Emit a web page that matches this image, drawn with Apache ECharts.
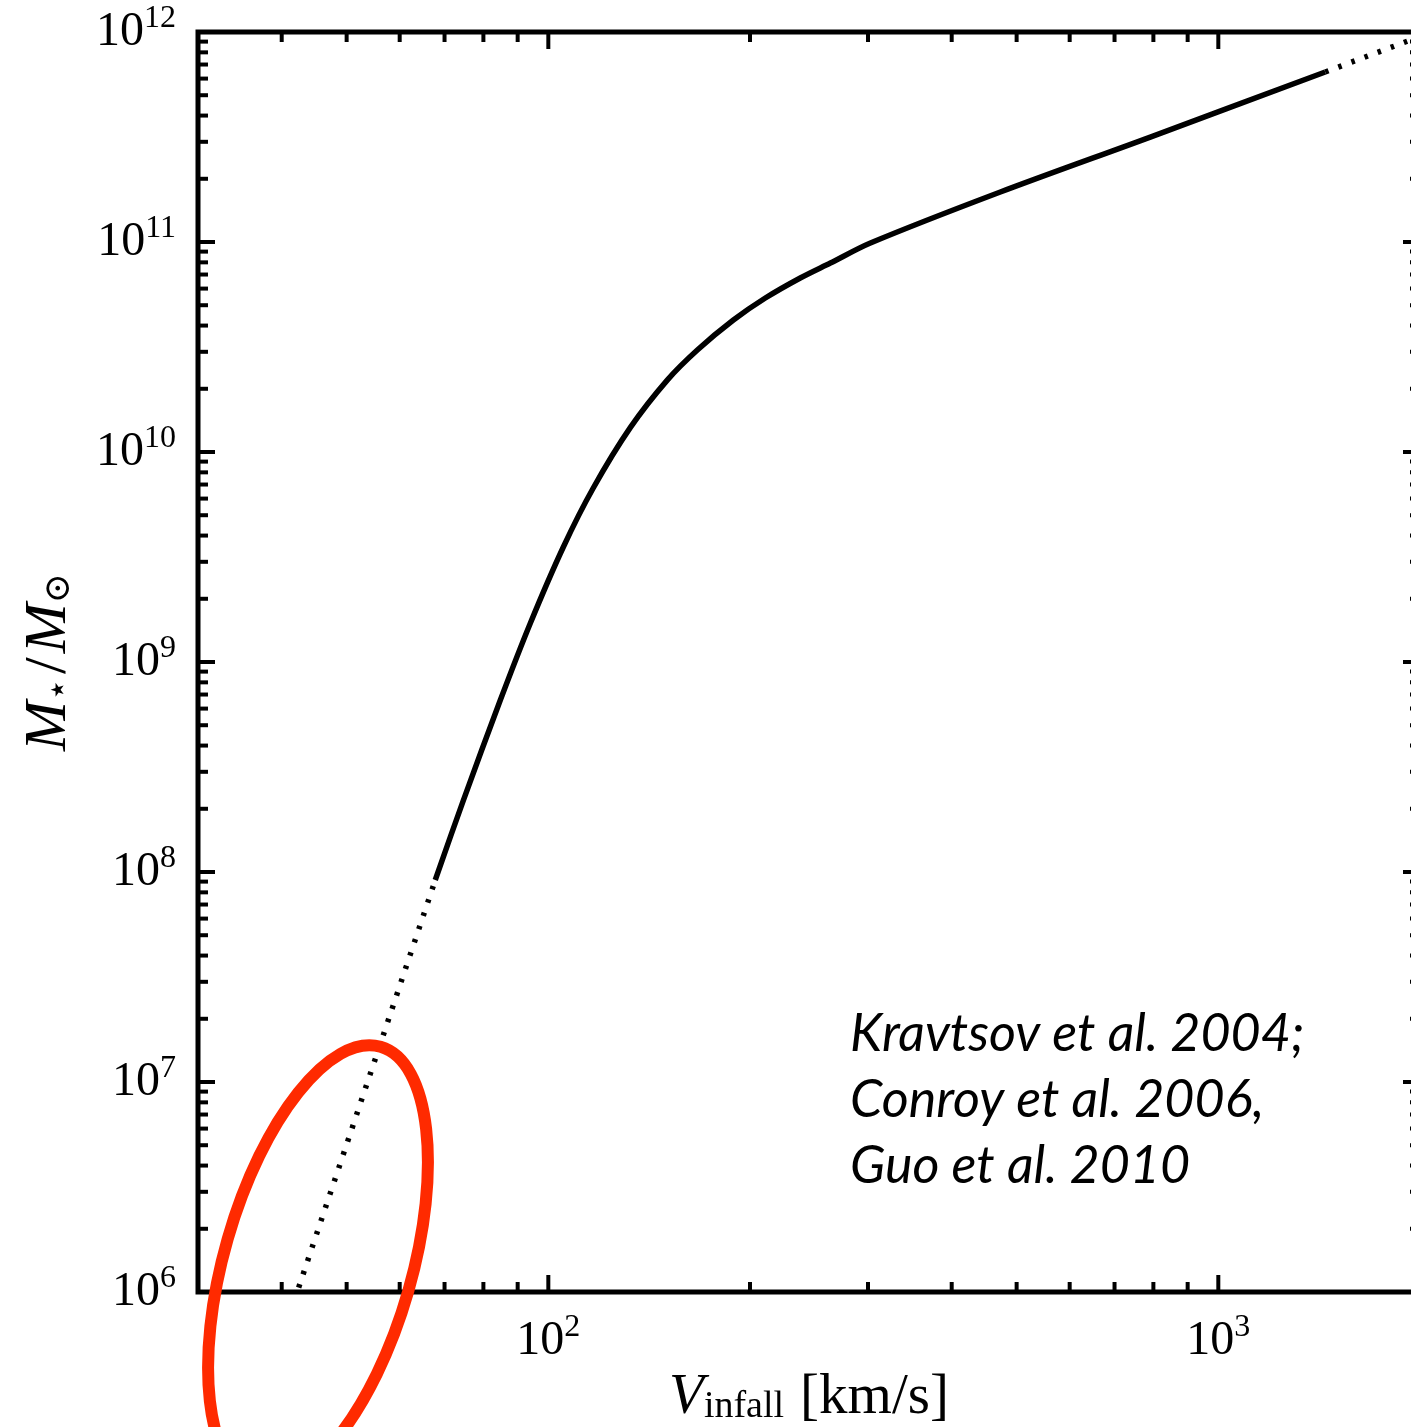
<!DOCTYPE html>
<html><head><meta charset="utf-8">
<script src="https://cdn.jsdelivr.net/npm/echarts@6/dist/echarts.min.js"></script>
<style>html,body{margin:0;padding:0;background:#fff}#c{width:1411px;height:1427px}</style>
</head><body><div id="c"></div>
<script>
// ---- data ----
const lowDotted = [[42.4, 1.05e6], [67.8, 9.16e7]];
const solidCurve = [[67.8, 9.16e7], [74.7, 2.20e8], [84.8, 6.59e8], [94.0, 1.53e9], [105.3, 3.53e9],
  [116.7, 6.74e9], [132.6, 1.31e10], [150.5, 2.20e10], [166.9, 3.06e10], [188.9, 4.25e10],
  [210.8, 5.41e10], [237.7, 6.74e10], [263.6, 7.94e10], [302.5, 9.89e10], [472.8, 1.73e11],
  [791.6, 3.16e11], [1444, 6.45e11]];
const highDotted = [[1444, 6.45e11], [2000, 9.52e11]];
const xMajorTicks = [100, 1000];
const xMinorTicks = [40, 50, 60, 70, 80, 90, 200, 300, 400, 500, 600, 700, 800, 900];
const yMajorTicks = [1e7, 1e8, 1e9, 1e10, 1e11];
const yMinorMantissa = [2, 3, 4, 5, 6, 7, 8, 9];
const yDecades = [1e6, 1e7, 1e8, 1e9, 1e10, 1e11];
const annotationLines = ['Kravtsov et al. 2004;', 'Conroy et al. 2006,', 'Guo et al. 2010'];
const X_MIN = 30, X_MAX = 2000, Y_MIN = 1e6, Y_MAX = 1e12;

const yMinorTicks = [];
yDecades.forEach(d => yMinorMantissa.forEach(m => yMinorTicks.push(m * d)));

const SERIF = '"Liberation Serif", "DejaVu Serif", serif';
const xTickItems = xMajorTicks.map(v => ({ v, major: true })).concat(xMinorTicks.map(v => ({ v, major: false })));
const yTickItems = yMajorTicks.map(v => ({ v, major: true })).concat(yMinorTicks.map(v => ({ v, major: false })));

function powLabel(v) {
  const e = Math.log10(v);
  const r = Math.round(e);
  if (Math.abs(e - r) > 1e-6) return '';
  return '{b|10}{s|' + r + '}';
}
const labelRich = {
  b: { fontFamily: SERIF, fontSize: 48, color: '#000' },
  s: { fontFamily: SERIF, fontSize: 32, color: '#000', padding: [0, 0, 26, 0] }
};

const chart = echarts.init(document.getElementById('c'), null, { renderer: 'canvas' });
chart.setOption({
  animation: false,
  backgroundColor: '#fff',
  grid: { left: 198, top: 32, right: -9, bottom: 135, containLabel: false, outerBoundsMode: 'none',
    show: true, borderColor: '#000', borderWidth: 5, backgroundColor: 'transparent', z: 5 },
  xAxis: {
    type: 'log', logBase: 10, min: X_MIN, max: X_MAX,
    axisLine: { show: false }, axisTick: { show: false }, splitLine: { show: false }, minorTick: { show: false },
    axisLabel: { formatter: powLabel, margin: 20, rich: labelRich, showMinLabel: false, showMaxLabel: false },
    name: '{v|V}{sub|infall}{u|[km/s]}', nameLocation: 'middle', nameGap: 76,
    nameTextStyle: {
      rich: {
        v: { fontFamily: SERIF, fontStyle: 'italic', fontSize: 57, color: '#000' },
        sub: { fontFamily: SERIF, fontSize: 38, color: '#000', padding: [18, 0, 0, 0] },
        u: { fontFamily: SERIF, fontSize: 57, color: '#000', padding: [0, 0, 0, 16] }
      }
    }
  },
  yAxis: {
    type: 'log', logBase: 10, min: Y_MIN, max: Y_MAX,
    axisLine: { show: false }, axisTick: { show: false }, splitLine: { show: false }, minorTick: { show: false },
    axisLabel: { formatter: powLabel, margin: 22, rich: labelRich },
    name: '{m|M}{sub|⋆}{r|/}{m|M}{sub|⊙}', nameLocation: 'middle', nameRotate: 90, nameGap: 119,
    nameTextStyle: {
      rich: {
        m: { fontFamily: SERIF, fontStyle: 'italic', fontSize: 60, color: '#000' },
        r: { fontFamily: SERIF, fontSize: 60, color: '#000', padding: [0, 4, 0, 4] },
        sub: { fontFamily: '"DejaVu Serif", serif', fontSize: 36, color: '#000', padding: [22, 0, 0, 0] }
      }
    }
  },
  series: [
    { type: 'line', data: lowDotted, showSymbol: false, symbol: 'none', z: 3,
      lineStyle: { color: '#000', width: 5.5, type: [3.5, 10.5], cap: 'butt' } },
    { type: 'line', data: solidCurve, showSymbol: false, symbol: 'none', z: 3, smooth: 0.3,
      lineStyle: { color: '#000', width: 5.5, cap: 'butt', join: 'round' } },
    { type: 'line', data: highDotted, showSymbol: false, symbol: 'none', z: 3,
      lineStyle: { color: '#000', width: 5.5, type: [3.5, 10.5], cap: 'butt' } },
    { type: 'custom', z: 6, silent: true,
      data: xTickItems.map(t => [t.v, Y_MIN]),
      renderItem: function (params, api) {
        const cs = params.coordSys;
        const p = api.coord([api.value(0), Y_MIN]);
        const L = xTickItems[params.dataIndex].major ? 17 : 10;
        const bottom = cs.y + cs.height, top = cs.y;
        return { type: 'group', children: [
          { type: 'line', shape: { x1: p[0], y1: bottom, x2: p[0], y2: bottom - L }, style: { stroke: '#000', lineWidth: 4 } },
          { type: 'line', shape: { x1: p[0], y1: top, x2: p[0], y2: top + L }, style: { stroke: '#000', lineWidth: 4 } }
        ] };
      } },
    { type: 'custom', z: 6, silent: true,
      data: yTickItems.map(t => [X_MIN, t.v]),
      renderItem: function (params, api) {
        const cs = params.coordSys;
        const p = api.coord([X_MIN, api.value(1)]);
        const L = yTickItems[params.dataIndex].major ? 17 : 10;
        const left = cs.x, right = cs.x + cs.width;
        return { type: 'group', children: [
          { type: 'line', shape: { x1: left, y1: p[1], x2: left + L, y2: p[1] }, style: { stroke: '#000', lineWidth: 4 } },
          { type: 'line', shape: { x1: right, y1: p[1], x2: right - L, y2: p[1] }, style: { stroke: '#000', lineWidth: 4 } }
        ] };
      } }
  ],
  graphic: [
    { type: 'text', left: 850, top: 1001, z: 10, silent: true,
      style: { text: annotationLines.join('\n'), fontFamily: 'Lato, "Open Sans", sans-serif', fontStyle: 'italic',
        fontSize: 52, lineHeight: 66, fill: '#000' } },
    { type: 'ellipse', x: 318, y: 1265, rotation: -16 * Math.PI / 180, z: 20, silent: true,
      shape: { cx: 0, cy: 0, rx: 94, ry: 227 },
      style: { fill: 'none', stroke: '#ff2a00', lineWidth: 12 } }
  ]
});
</script></body></html>
